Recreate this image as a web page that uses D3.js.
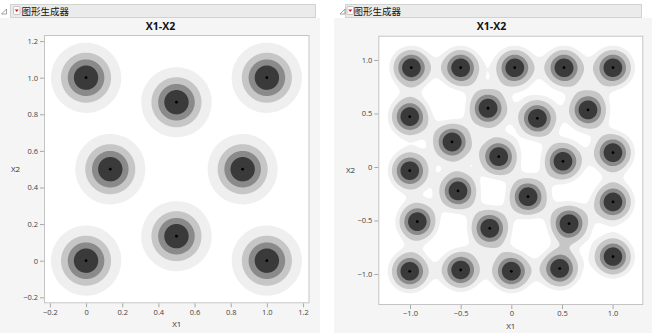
<!DOCTYPE html>
<html><head><meta charset="utf-8">
<script src="https://cdn.jsdelivr.net/npm/d3@7"></script>
<style>body{margin:0;background:#fff;}svg{display:block}</style>
</head><body>
<svg id="c" width="652" height="333"></svg>
<script>
// ---- data ----
const headerText = "图形生成器";
const titleText = "X1-X2";
const xLabel = "X1", yLabel = "X2";
const leftX1 = [0, 0.5, 1, 0.134, 0.866, 0.5, 0, 1];
const leftX2 = [1, 0.866, 1, 0.5, 0.5, 0.134, 0, 0];
const rightX1 = [-0.987, -0.5, 0.034, 0.52, 1.004,
                 -1.003, -0.23, 0.257, 0.757,
                 -0.585, -0.124, 0.51, 1.004,
                 -1.003, -0.526, 0.165, 1.004,
                 -0.928, -0.213, 0.57,
                 -1.003, -0.5, 0, 0.478, 1.004];
const rightX2 = [0.928, 0.928, 0.928, 0.928, 0.928,
                 0.47, 0.549, 0.455, 0.533,
                 0.234, 0.096, 0.053, 0.134,
                 -0.035, -0.224, -0.278, -0.327,
                 -0.511, -0.573, -0.53,
                 -0.975, -0.963, -0.975, -0.95, -0.838];
const leftTicks = [-0.2, 0, 0.2, 0.4, 0.6, 0.8, 1.0, 1.2];
const rightTicks = [-1.0, -0.5, 0, 0.5, 1.0];
// density contour levels (fraction of single-point peak)
const leftLevels = [0.151, 0.381, 0.597, 0.795];
const rightLevels = [0.239, 0.392, 0.607, 0.778];

const levelColors = ["#efefef", "#c6c6c6", "#8a8a8a", "#3a3a3a"];
const latin = "'Open Sans','Noto Sans','DejaVu Sans',sans-serif";
const cjk = "'Noto Sans CJK SC','Noto Sans',sans-serif";
const svg = d3.select("#c");
const fmt = d => d === 0 ? "0" : d3.format(".1f")(d);

// Gaussian kernel density on a 1px grid (peak of a single point = 1)
function densityGrid(pix, n, m, sigma) {
  const v = new Float64Array(n * m);
  const R = Math.ceil(sigma * 5), s2 = 2 * sigma * sigma;
  for (const [px, py] of pix) {
    const i0 = Math.max(0, Math.floor(px - R)), i1 = Math.min(n - 1, Math.ceil(px + R));
    const j0 = Math.max(0, Math.floor(py - R)), j1 = Math.min(m - 1, Math.ceil(py + R));
    for (let j = j0; j <= j1; j++) {
      const dy = j + 0.5 - py;
      for (let i = i0; i <= i1; i++) {
        const dx = i + 0.5 - px;
        v[i + j * n] += Math.exp(-(dx * dx + dy * dy) / s2);
      }
    }
  }
  return v;
}

function drawPanel(p, id) {
  const g = svg.append("g");
  g.append("rect").attr("x", p.bgX).attr("y", 18).attr("width", p.bgW).attr("height", 315).attr("fill", "#f5f5f5");
  g.append("rect").attr("x", p.barX + 0.5).attr("y", 4.5).attr("width", p.barW).attr("height", 13)
    .attr("fill", "#ebebeb").attr("stroke", "#d2d2d2");
  const tx = p.triX;
  g.append("path").attr("d", `M${tx + 5},${9} L${tx + 5},${14} L${tx},${14} Z`)
    .attr("fill", "none").attr("stroke", "#8a8a8a").attr("stroke-width", 0.8);
  g.append("rect").attr("x", p.iconX + 0.5).attr("y", 6.5).attr("width", 6.5).attr("height", 8).attr("rx", 1)
    .attr("fill", "#fbfbfb").attr("stroke", "#b8b8b8").attr("stroke-width", 0.8);
  g.append("path").attr("d", `M${p.iconX + 1.8},${9.5} L${p.iconX + 5.7},${9.5} L${p.iconX + 3.75},${12} Z`).attr("fill", "#d11");
  g.append("text").attr("x", p.textX).attr("y", 14.5).attr("font-family", cjk).attr("font-size", 9.5)
    .attr("fill", "#111").text(headerText);
  g.append("text").attr("x", p.titleX).attr("y", 29.5).attr("text-anchor", "middle")
    .attr("font-family", latin).attr("font-weight", "bold").attr("font-size", 10.5).attr("fill", "#111").text(titleText);

  const x = d3.scaleLinear().domain(p.xDom).range([p.px, p.px + p.pw]);
  const y = d3.scaleLinear().domain(p.yDom).range([p.py + p.ph, p.py]);

  g.append("rect").attr("x", p.px).attr("y", p.py).attr("width", p.pw).attr("height", p.ph).attr("fill", "#fff");
  g.append("clipPath").attr("id", "clip" + id).append("rect")
    .attr("x", 0).attr("y", 0).attr("width", p.pw).attr("height", p.ph);

  const pts = p.xs.map((v, i) => [v, p.ys[i]]);
  const n = Math.ceil(p.pw), m = Math.ceil(p.ph);
  const pix = pts.map(d => [x(d[0]) - p.px, y(d[1]) - p.py]);
  const values = densityGrid(pix, n, m, p.bw);
  const cs = d3.contours().size([n, m]).thresholds(p.levels)(values);
  g.append("g").attr("transform", `translate(${p.px},${p.py})`).attr("clip-path", `url(#clip${id})`)
    .selectAll("path").data(cs).join("path")
    .attr("d", d3.geoPath()).attr("fill", (d, i) => levelColors[i]);

  g.append("g").selectAll("circle").data(pts).join("circle")
    .attr("cx", d => x(d[0])).attr("cy", d => y(d[1])).attr("r", 1.4).attr("fill", "#000");

  g.append("rect").attr("x", p.px + 0.5).attr("y", p.py + 0.5).attr("width", p.pw - 1).attr("height", p.ph - 1)
    .attr("fill", "none").attr("stroke", "#c4c4c4");

  const ya = g.append("g").attr("transform", `translate(${p.px},0)`)
    .call(d3.axisLeft(y).tickValues(p.ticks).tickSize(4).tickPadding(2).tickFormat(fmt));
  const xa = g.append("g").attr("transform", `translate(0,${p.py + p.ph})`)
    .call(d3.axisBottom(x).tickValues(p.ticks).tickSize(4).tickPadding(2).tickFormat(fmt));
  [ya, xa].forEach(a => {
    a.select(".domain").remove();
    a.selectAll(".tick line").attr("stroke", "#a8a8a8");
    a.selectAll(".tick text").attr("fill", "#444").attr("font-family", latin).attr("font-size", 7.5);
  });

  g.append("text").attr("x", p.px + p.pw / 2).attr("y", p.py + p.ph + 24).attr("text-anchor", "middle")
    .attr("font-family", latin).attr("font-size", 8).attr("fill", "#333").text(xLabel);
  g.append("text").attr("x", p.yLabX).attr("y", p.py + p.ph / 2 + 3).attr("text-anchor", "middle")
    .attr("font-family", latin).attr("font-size", 8).attr("fill", "#333").text(yLabel);
}

drawPanel({
  bgX: 0, bgW: 320, barX: 10, barW: 305, triX: 1.5, iconX: 13, textX: 21.5, titleX: 160.5,
  px: 44, py: 35, pw: 265.5, ph: 268.3,
  xDom: [-0.2325, 1.2357], yDom: [-0.2328, 1.2333],
  ticks: leftTicks, xs: leftX1, ys: leftX2, bw: 18, levels: leftLevels, yLabX: 15.5
}, 0);

drawPanel({
  bgX: 334, bgW: 318, barX: 345, barW: 296, triX: 340, iconX: 346.5, textX: 353.5, titleX: 491.5,
  px: 378.3, py: 35.7, pw: 265, ph: 269.3,
  xDom: [-1.313, 1.303], yDom: [-1.29, 1.227],
  ticks: rightTicks, xs: rightX1, ys: rightX2, bw: 13, levels: rightLevels, yLabX: 350.5
}, 1);
</script>
</body></html>
